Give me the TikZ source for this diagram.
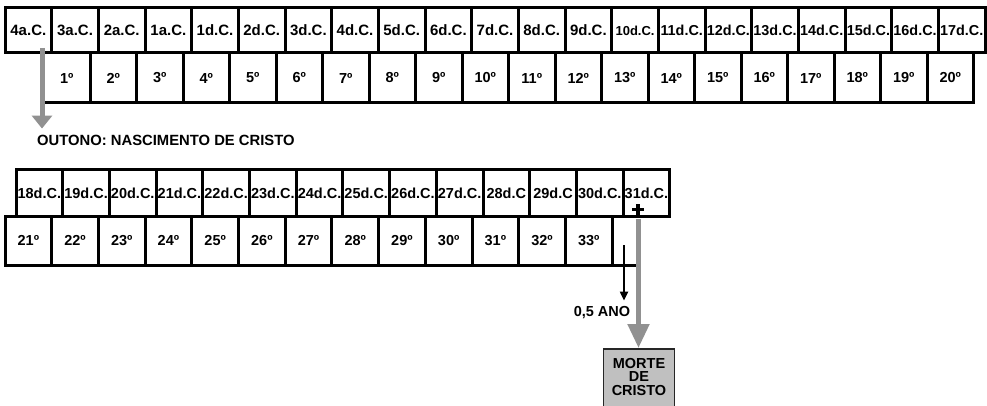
\documentclass[tikz,border=0pt]{standalone}
\usepackage{fontspec}
\setmainfont{Liberation Sans}
\usetikzlibrary{arrows.meta,calc}
\definecolor{arrgray}{RGB}{145,145,145}
\definecolor{boxgray}{RGB}{192,192,192}
\newcommand{\fsA}{\fontsize{15}{15}\selectfont}
\newcommand{\fsB}{\fontsize{14.4}{14.4}\selectfont}
\newcommand{\fsC}{\fontsize{13}{13}\selectfont}
\begin{document}
\begin{tikzpicture}[x=1pt,y=-1pt,
  txt/.style={font=\bfseries\fontsize{14.5}{13.5}\selectfont, inner sep=0pt},
  cell/.style={draw=black, line width=3pt, inner sep=0pt, txt},
  garrow/.style={draw=arrgray, line width=5pt, -{Triangle[width=20pt,length=13pt]}},
  garrowb/.style={draw=arrgray, line width=5pt, -{Triangle[width=21pt,length=24pt]}},
  barrow/.style={draw=black, line width=2pt, -{Triangle[width=8pt,length=9pt]}},
  mbox/.style={draw=black!85, line width=1.5pt, fill=boxgray, inner sep=0pt}]
\useasboundingbox (0,0) rectangle (987,406);
\clip (0,0) rectangle (987,406);
% top row of years
\foreach \l [count=\i] in {{\fsA 4a.C.},{\fsA 3a.C.},{\fsA 2a.C.},{\fsA 1a.C.},{\fsA 1d.C.},{\fsA 2d.C.},{\fsA 3d.C.},{\fsA 4d.C.},{\fsA 5d.C.},{\fsA 6d.C.},{\fsA 7d.C.},{\fsA 8d.C.},{\fsA 9d.C.},{\fsC 10d.C.},{\fsB 11d.C.},{\fsB 12d.C.},{\fsB 13d.C.},{\fsB 14d.C.},{\fsB 15d.C.},{\fsB 16d.C.},{\fsB 17d.C.}}
  \node[cell, minimum width=46.67pt, minimum height=45pt] (t\i) at ({5+46.67*(\i-0.5)},30.5) {\l};
% top row of ages
\foreach \i in {1,...,20}
  \node[cell, minimum width=46.5pt, minimum height=50pt] (s\i) at ({43.5+46.5*(\i-0.5)},78) {{\i}º};
% bottom row of years
\foreach \l [count=\i] in {18d.C.,19d.C.,20d.C.,21d.C.,22d.C.,23d.C.,24d.C.,25d.C.,26d.C.,27d.C.,28d.C,29d.C,30d.C.,31d.C.}
  \node[cell, minimum width=46.7pt, minimum height=46pt] (b\i) at ({16+46.7*(\i-0.5)},193) {\l};
% bottom row of ages
\foreach \i [evaluate=\i as \n using int(\i+20)] in {1,...,13}
  \node[cell, minimum width=46.7pt, minimum height=49pt] (c\i) at ({5+46.7*(\i-0.5)},240.5) {{\n}º};
% half year cell
\node[minimum width=24pt, minimum height=49pt, inner sep=0pt] (h) at (624,240.5) {};
\draw[line width=3pt] (h.south west) -- (h.south east);
% birth
\coordinate (g1) at (42,48);
\node[txt, font=\bfseries\fontsize{14.8}{14.8}\selectfont, anchor=west] (nasc) at (37,140) {OUTONO: NASCIMENTO DE CRISTO};
\draw[garrow, shorten >=6pt] (g1) -- (g1 |- nasc.north);
% half year label and arrow
\node[txt] (half) at (602,313) {0,5 ANO};
\draw[barrow, shorten >=6pt] ([yshift=-4.5pt]h.center) -- (h.center |- half.north);
% death box
\node[mbox, anchor=north, minimum width=71pt, minimum height=66pt] (box) at (639,348) {};
\node[txt, anchor=north, align=center] (boxtxt) at ([yshift=-10pt]box.north) {MORTE\\DE\\CRISTO};
\draw[garrowb, shorten <=1.5pt] ([xshift=-0.5pt]box.north |- b14.south) -- ([xshift=-0.5pt]box.north);
% cross
\coordinate (cr) at (638,209.5);
\draw[line width=3.5pt] ($(cr)+(-6,0)$) -- ($(cr)+(6,0)$);
\draw[line width=3.5pt] ($(cr)+(0,-5.5)$) -- ($(cr)+(0,6)$);
\end{tikzpicture}
\end{document}
